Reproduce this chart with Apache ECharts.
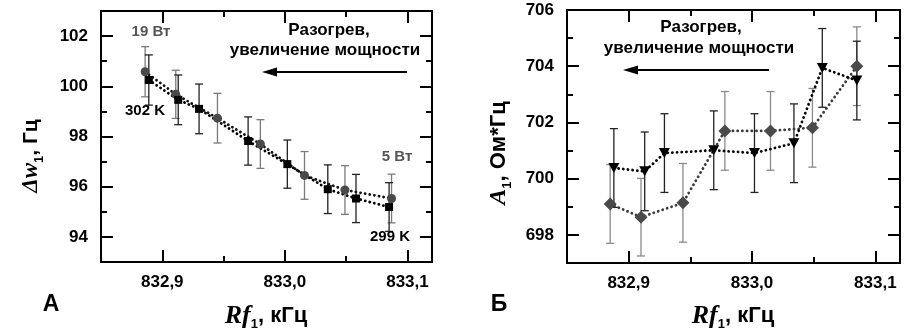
<!DOCTYPE html>
<html><head><meta charset="utf-8">
<script src="https://cdn.jsdelivr.net/npm/echarts@6/dist/echarts.min.js"></script>
<style>html,body{margin:0;padding:0;background:#fff}#c{width:917px;height:333px}</style>
</head><body><div id="c"></div>
<script>
// ---- tick values ----
const xTicksMajor = [832.9, 833.0, 833.1];
const xTicksMinor = [832.95, 833.05];
const yTicksMajorA = [94, 96, 98, 100, 102];
const yTicksMinorA = [95, 97, 99, 101];
const yTicksMajorB = [698, 700, 702, 704, 706];
const yTicksMinorB = [699, 701, 703, 705];

// ---- panel A (Δw1) ----
const xCircA = [832.886, 832.911, 832.945, 832.980, 833.016, 833.049, 833.087];
const yCircA = [100.58, 99.68, 98.73, 97.70, 96.45, 95.87, 95.53];
const eCircA = [1.00, 0.96, 0.99, 0.97, 0.95, 0.97, 0.97];
const xSqA = [832.889, 832.913, 832.930, 832.970, 833.002, 833.035, 833.058, 833.085];
const ySqA = [100.25, 99.46, 99.10, 97.82, 96.90, 95.90, 95.53, 95.19];
const eSqA = [1.00, 0.99, 0.99, 0.96, 0.96, 0.97, 0.96, 0.97];

// ---- panel Б (A1) ----
const xDiaB = [832.885, 832.910, 832.944, 832.978, 833.015, 833.049, 833.085];
const yDiaB = [699.10, 698.63, 699.14, 701.70, 701.70, 701.81, 704.00];
const eDiaB = [1.40, 1.38, 1.40, 1.40, 1.40, 1.40, 1.40];
const xTriB = [832.888, 832.913, 832.929, 832.969, 833.002, 833.034, 833.057, 833.085];
const yTriB = [700.38, 700.26, 700.91, 701.01, 700.91, 701.26, 703.94, 703.49];
const eTriB = [1.40, 1.40, 1.40, 1.40, 1.40, 1.40, 1.40, 1.40];

const SANS = '"Liberation Sans", Arial, sans-serif';
const SERIF = '"Liberation Serif", "Times New Roman", serif';

const chart = echarts.init(document.getElementById('c'), null, {renderer: 'canvas'});

const fmt = v => v.toFixed(1).replace('.', ',');
const fmtInt = v => String(Math.round(v));

function tickAxis(grid, pos, min, max, vals, len, labels, formatter, margin) {
  return {
    gridIndex: grid, type: 'value', position: pos, min: min, max: max,
    axisLine: {show: false}, splitLine: {show: false},
    axisTick: {show: true, inside: true, length: len, customValues: vals,
      lineStyle: {color: '#000', width: 2}},
    axisLabel: labels ? {show: true, customValues: vals, formatter: formatter, margin: margin,
      fontSize: 17, fontWeight: 'bold', color: '#000', fontFamily: SANS} : {show: false}
  };
}

const X_MIN = 832.85, X_MAX = 833.12;
const xAxes = [
  tickAxis(0, 'bottom', X_MIN, X_MAX, xTicksMajor, 12, true, fmt, 12),
  tickAxis(0, 'bottom', X_MIN, X_MAX, xTicksMinor, 6, false),
  tickAxis(0, 'top', X_MIN, X_MAX, xTicksMajor, 12, false),
  tickAxis(0, 'top', X_MIN, X_MAX, xTicksMinor, 6, false),
  tickAxis(1, 'bottom', X_MIN, X_MAX, xTicksMajor, 12, true, fmt, 12),
  tickAxis(1, 'bottom', X_MIN, X_MAX, xTicksMinor, 6, false),
  tickAxis(1, 'top', X_MIN, X_MAX, xTicksMajor, 12, false),
  tickAxis(1, 'top', X_MIN, X_MAX, xTicksMinor, 6, false)
];
const yAxes = [
  tickAxis(0, 'left', 93, 103, yTicksMajorA, 12, true, fmtInt, 13),
  tickAxis(0, 'left', 93, 103, yTicksMinorA, 6, false),
  tickAxis(0, 'right', 93, 103, yTicksMajorA, 12, false),
  tickAxis(0, 'right', 93, 103, yTicksMinorA, 6, false),
  tickAxis(1, 'left', 697, 706, yTicksMajorB, 12, true, fmtInt, 13),
  tickAxis(1, 'left', 697, 706, yTicksMinorB, 6, false),
  tickAxis(1, 'right', 697, 706, yTicksMajorB, 12, false),
  tickAxis(1, 'right', 697, 706, yTicksMinorB, 6, false)
];

function errRender(capHalf, color, width) {
  return function (params, api) {
    const x = api.value(0), y = api.value(1), e = api.value(2);
    const t = api.coord([x, y + e]), b = api.coord([x, y - e]);
    const style = {stroke: color, lineWidth: width};
    return {type: 'group', children: [
      {type: 'line', shape: {x1: t[0], y1: t[1], x2: b[0], y2: b[1]}, style: style},
      {type: 'line', shape: {x1: t[0] - capHalf, y1: t[1], x2: t[0] + capHalf, y2: t[1]}, style: style},
      {type: 'line', shape: {x1: b[0] - capHalf, y1: b[1], x2: b[0] + capHalf, y2: b[1]}, style: style}
    ]};
  };
}
function errSeries(grid, xs, ys, es, color) {
  return {type: 'custom', xAxisIndex: grid * 4, yAxisIndex: grid * 4, z: 2,
    renderItem: errRender(4, color, 1.3), encode: {x: 0, y: 1},
    data: xs.map((v, i) => [v, ys[i], es[i]]), silent: true};
}
const DOT = [0.1, 4.6];
function lineSeries(grid, xs, ys, symbol, size, color, lineColor, rotate) {
  return {type: 'line', xAxisIndex: grid * 4, yAxisIndex: grid * 4, z: 3,
    data: xs.map((v, i) => [v, ys[i]]),
    symbol: symbol, symbolSize: size, symbolRotate: rotate || 0, showSymbol: true,
    itemStyle: {color: color},
    lineStyle: {color: lineColor, width: 2.8, type: DOT, cap: 'round'}};
}

function txt(x, y, text, opts) {
  return Object.assign({type: 'text', x: x, y: y, z: 10,
    style: Object.assign({text: text, align: 'center', verticalAlign: 'middle',
      font: 'bold 17px ' + SANS, fill: '#000'}, opts || {})});
}
function arrow(x1, x2, y) {
  return [
    {type: 'line', z: 10, shape: {x1: x1, y1: y, x2: x2 + 10, y2: y}, style: {stroke: '#000', lineWidth: 2}},
    {type: 'polygon', z: 10, shape: {points: [[x2, y], [x2 + 15, y - 4.5], [x2 + 15, y + 4.5]]}, style: {fill: '#000'}}
  ];
}
function rich(iSize, tSize) {
  return {
    i: {fontFamily: SERIF, fontStyle: 'italic', fontWeight: 'bold', fontSize: iSize, lineHeight: 30, verticalAlign: 'middle'},
    s: {fontFamily: SANS, fontWeight: 'bold', fontSize: 13, lineHeight: 16, verticalAlign: 'bottom'},
    t: {fontFamily: SANS, fontWeight: 'bold', fontSize: tSize, lineHeight: 30, verticalAlign: 'middle'}
  };
}
function title(x, y, text, r, rot) {
  return {type: 'text', x: x, y: y, rotation: rot || 0, z: 10,
    style: {text: text, rich: r, align: 'center', verticalAlign: 'middle', fill: '#000'}};
}

const graphics = [
  txt(151, 32, '19 Вт', {font: 'bold 15px ' + SANS, fill: '#555'}),
  txt(145, 111, '302 K', {font: 'bold 15px ' + SANS}),
  txt(397, 157, '5 Вт', {font: 'bold 15px ' + SANS, fill: '#555'}),
  txt(390, 237, '299 K', {font: 'bold 15px ' + SANS}),
  txt(329, 30, 'Разогрев,'),
  txt(325, 50, 'увеличение мощности'),
  ...arrow(407, 262, 72),
  txt(701, 27, 'Разогрев,'),
  txt(699, 48, 'увеличение мощности'),
  ...arrow(769, 623, 70),
  txt(51, 305, 'А', {font: 'bold 23px ' + SANS}),
  txt(499, 305, 'Б', {font: 'bold 23px ' + SANS}),
  title(266, 316, '{i|Rf}{s|1}{t|, кГц}', rich(26, 22)),
  title(733, 316, '{i|Rf}{s|1}{t|, кГц}', rich(26, 22)),
  title(31, 156, '{i|Δw}{s|1}{t|, Гц}', rich(23, 21), Math.PI / 2),
  title(499, 153, '{i|A}{s|1}{t|, Ом*Гц}', rich(24, 22), Math.PI / 2)
];

chart.setOption({
  animation: false,
  backgroundColor: '#fff',
  grid: [
    {left: 101, top: 11, width: 331, height: 251, show: true, borderColor: '#000', borderWidth: 2, backgroundColor: 'transparent'},
    {left: 567, top: 10, width: 333, height: 253, show: true, borderColor: '#000', borderWidth: 2, backgroundColor: 'transparent'}
  ],
  xAxis: xAxes,
  yAxis: yAxes,
  series: [
    errSeries(0, xCircA, yCircA, eCircA, '#7a7a7a'),
    errSeries(0, xSqA, ySqA, eSqA, '#222'),
    lineSeries(0, xCircA, yCircA, 'circle', 9, '#4a4a4a', '#111'),
    lineSeries(0, xSqA, ySqA, 'rect', 8, '#000', '#000'),
    errSeries(1, xDiaB, yDiaB, eDiaB, '#8a8a8a'),
    errSeries(1, xTriB, yTriB, eTriB, '#222'),
    lineSeries(1, xDiaB, yDiaB, 'diamond', [13, 13], '#4a4a4a', '#3a3a3a'),
    lineSeries(1, xTriB, yTriB, 'triangle', [11, 10], '#000', '#000', 180)
  ],
  graphic: graphics
});
</script></body></html>
